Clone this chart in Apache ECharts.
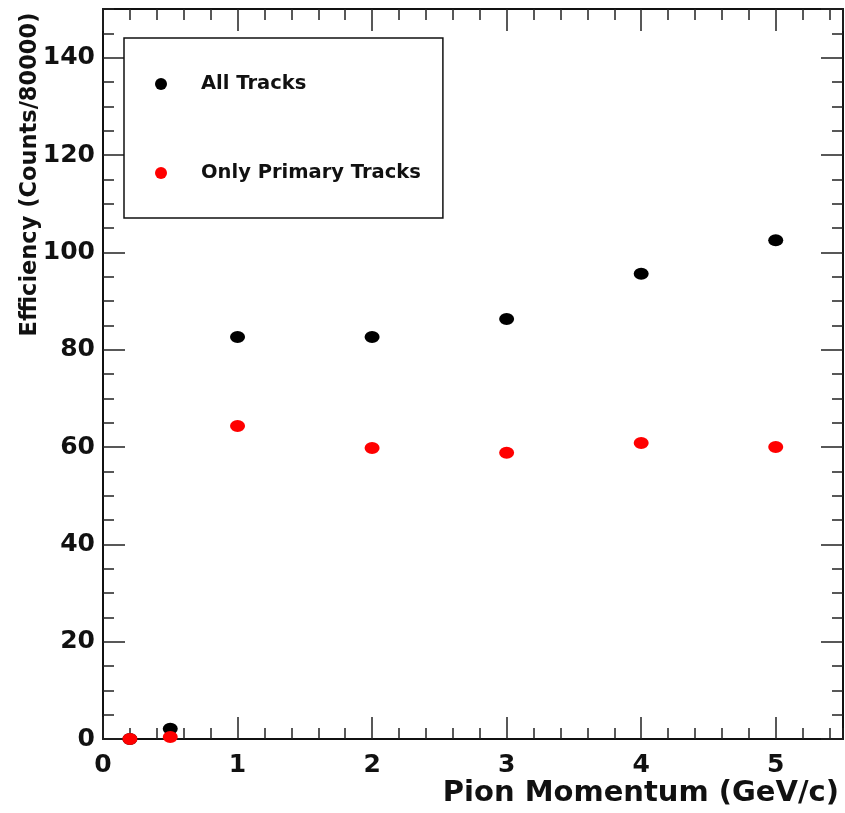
<!DOCTYPE html>
<html>
<head>
<meta charset="utf-8">
<script src="https://cdn.jsdelivr.net/npm/echarts@6/dist/echarts.min.js"></script>
<style>
  html, body { margin: 0; padding: 0; background: #fff; }
  #chart { width: 845px; height: 813px; }
</style>
</head>
<body>
<div id="chart"></div>
<script>
// values
const momentum = [0.2, 0.5, 1, 2, 3, 4, 5];
const allTracks = [0, 2.1, 82.6, 82.6, 86.3, 95.6, 102.5];
const primaryTracks = [0, 0.4, 64.3, 59.8, 58.8, 60.8, 60.0];
const seriesNames = ['All Tracks', 'Only Primary Tracks'];

const FONT = 'DejaVu Sans';
const frameLine = { show: true, onZero: false, lineStyle: { color: '#111', width: 2 } };
const noLine = { show: false, onZero: false };
const tickStyle = { color: '#222', width: 1.5 };

function pairs(xs, ys) {
  return xs.map((x, i) => [x, ys[i]]);
}

let myChart = echarts.init(document.getElementById('chart'));

let option = {
  animation: false,
  backgroundColor: '#fff',
  grid: [
    { left: 103, right: 2, top: 9, bottom: 74, outerBoundsMode: 'none', containLabel: false },
    { left: 103, right: 2, top: 9, bottom: 74, outerBoundsMode: 'none', containLabel: false }
  ],
  legend: {
    data: seriesNames,
    orient: 'vertical',
    left: 124,
    top: 38,
    padding: [36, 22, 35, 31],
    itemGap: 69,
    itemWidth: 14,
    itemHeight: 12,
    backgroundColor: '#fff',
    borderColor: '#111',
    borderWidth: 1.5,
    textStyle: {
      fontFamily: FONT, fontWeight: 'bold', fontSize: 19.5, color: '#111',
      lineHeight: 20, padding: [0, 0, 0, 28]
    }
  },
  xAxis: [
    {
      gridIndex: 0, type: 'value', position: 'bottom',
      min: 0, max: 5.5, interval: 1,
      axisLine: frameLine,
      axisTick: { show: true, inside: true, length: 22, lineStyle: tickStyle },
      splitLine: { show: false },
      axisLabel: {
        margin: 14, showMaxLabel: false,
        fontFamily: FONT, fontWeight: 'bold', fontSize: 25, color: '#111'
      },
      name: 'Pion Momentum (GeV/c)',
      nameLocation: 'end',
      nameGap: 0,
      nameTextStyle: {
        fontFamily: FONT, fontWeight: 'bold', fontSize: 29, color: '#111',
        align: 'right', verticalAlign: 'top', padding: [40, 4, 0, 0]
      }
    },
    {
      gridIndex: 0, type: 'value', position: 'top',
      min: 0, max: 5.5, interval: 1,
      axisLine: frameLine,
      axisTick: { show: true, inside: true, length: 22, lineStyle: tickStyle },
      splitLine: { show: false },
      axisLabel: { show: false }
    },
    {
      gridIndex: 1, type: 'value', position: 'bottom',
      min: 0, max: 5.5, interval: 0.2,
      axisLine: noLine,
      axisTick: { show: true, inside: true, length: 11, lineStyle: tickStyle },
      splitLine: { show: false },
      axisLabel: { show: false }
    },
    {
      gridIndex: 1, type: 'value', position: 'top',
      min: 0, max: 5.5, interval: 0.2,
      axisLine: noLine,
      axisTick: { show: true, inside: true, length: 11, lineStyle: tickStyle },
      splitLine: { show: false },
      axisLabel: { show: false }
    }
  ],
  yAxis: [
    {
      gridIndex: 0, type: 'value', position: 'left',
      min: 0, max: 150, interval: 20,
      axisLine: frameLine,
      axisTick: { show: true, inside: true, length: 22, lineStyle: tickStyle },
      splitLine: { show: false },
      axisLabel: {
        margin: 8, showMaxLabel: false,
        fontFamily: FONT, fontWeight: 'bold', fontSize: 25, color: '#111'
      },
      name: 'Efficiency (Counts/80000)',
      nameLocation: 'middle',
      nameRotate: 90,
      nameGap: 61,
      nameMoveOverlap: false,
      nameTextStyle: {
        fontFamily: FONT, fontWeight: 'bold', fontSize: 22.5, color: '#111',
        padding: [0, 0, 0, 399]
      }
    },
    {
      gridIndex: 0, type: 'value', position: 'right',
      min: 0, max: 150, interval: 20,
      axisLine: frameLine,
      axisTick: { show: true, inside: true, length: 22, lineStyle: tickStyle },
      splitLine: { show: false },
      axisLabel: { show: false }
    },
    {
      gridIndex: 1, type: 'value', position: 'left',
      min: 0, max: 150, interval: 5,
      axisLine: noLine,
      axisTick: { show: true, inside: true, length: 11, lineStyle: tickStyle },
      splitLine: { show: false },
      axisLabel: { show: false }
    },
    {
      gridIndex: 1, type: 'value', position: 'right',
      min: 0, max: 150, interval: 5,
      axisLine: noLine,
      axisTick: { show: true, inside: true, length: 11, lineStyle: tickStyle },
      splitLine: { show: false },
      axisLabel: { show: false }
    }
  ],
  series: [
    {
      name: seriesNames[0],
      type: 'scatter',
      xAxisIndex: 0, yAxisIndex: 0,
      symbol: 'circle',
      symbolSize: [15, 12],
      itemStyle: { color: '#000', opacity: 1 },
      data: pairs(momentum, allTracks)
    },
    {
      name: seriesNames[1],
      type: 'scatter',
      xAxisIndex: 0, yAxisIndex: 0,
      symbol: 'circle',
      symbolSize: [15, 12],
      itemStyle: { color: '#ff0000', opacity: 1 },
      data: pairs(momentum, primaryTracks)
    }
  ]
};

option && myChart.setOption(option);
</script>
</body>
</html>
